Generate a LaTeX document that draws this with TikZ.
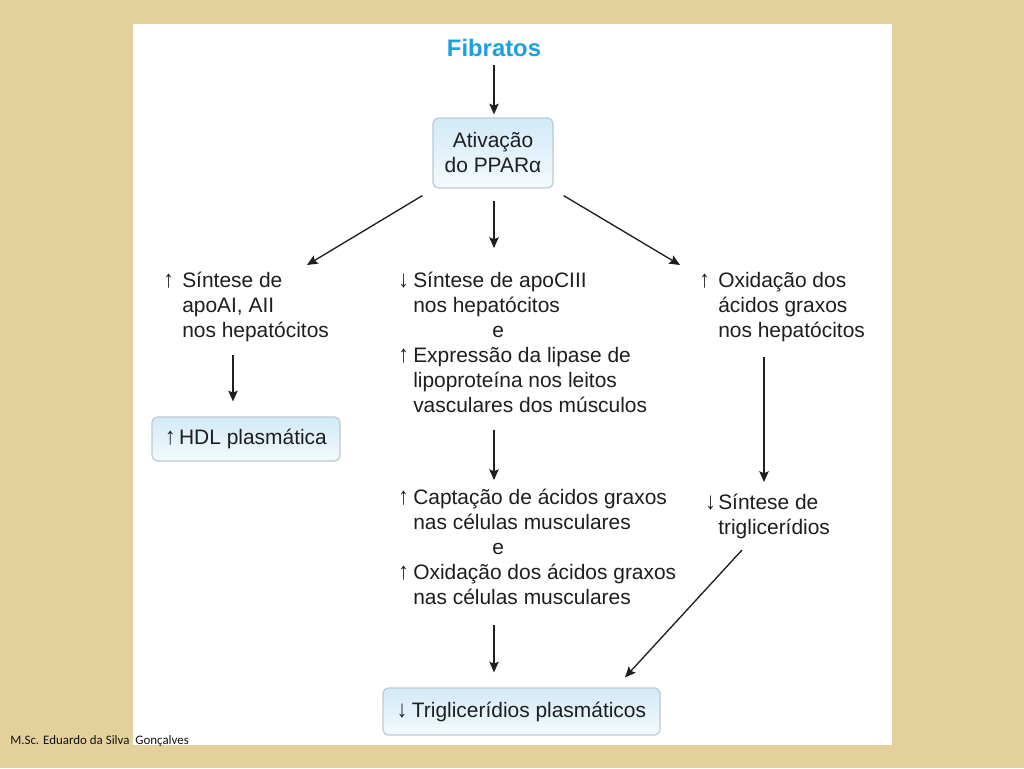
\documentclass[tikz,border=0pt]{standalone}
\usepackage{graphicx}
\usepackage{fontspec}
\setmainfont{Liberation Sans}
\newfontfamily\footfont{Carlito}
\usetikzlibrary{arrows.meta,calc}
\definecolor{bgtan}{RGB}{228,208,154}
\definecolor{fibblue}{RGB}{30,160,222}
\definecolor{boxedge}{RGB}{188,202,210}
\definecolor{boxtop}{RGB}{210,234,248}
\definecolor{boxbot}{RGB}{244,250,253}
\definecolor{txt}{RGB}{30,30,30}
\newcommand{\myup}[1]{\makebox[#1][l]{\scalebox{1}[1.15]{↑}}}
\newcommand{\mydn}[1]{\makebox[#1][l]{\scalebox{1}[1.15]{↓}}}
\newcommand{\firststrut}{\rule{0pt}{16pt}}
\begin{document}
\begin{tikzpicture}[x=0.75pt,y=-0.75pt,
  txtblock/.style={inner sep=0pt, anchor=north west, align=left,
    font=\fontsize{15.7}{18.75}\selectfont, text=txt},
  hlbox/.style={draw=boxedge, line width=0.9pt, rounded corners=4pt,
    top color=boxtop, bottom color=boxbot, inner sep=0pt, align=center,
    font=\fontsize{15.7}{18.75}\selectfont, text=txt},
  arr/.style={-{Stealth[length=8pt,width=7pt,inset=1.4pt]}, line width=1pt, draw=black!88}]
\useasboundingbox (0,0) rectangle (1024,768);
\fill[bgtan] (0,0) rectangle (1024,768);
\fill[white] (133,24) rectangle (892,745);

% title and boxes
\node[font=\fontsize{17.9}{20}\selectfont\bfseries, text=fibblue, inner sep=0pt] (fib) at (494,48) {Fibratos};
\node[hlbox, minimum width=90pt, minimum height=52.5pt] (ativ) at (493,153) {Ativação\\do PPARα};
\node[hlbox, minimum width=141pt, minimum height=33pt] (hdl) at (246,439) {\myup{10.5pt}HDL plasmática};
\node[hlbox, minimum width=207.75pt, minimum height=35.25pt] (trig) at (521.5,711.5) {\mydn{11.25pt}Triglicerídios plasmáticos};

% text blocks
\node[txtblock] (left) at (163,265.7) {\firststrut\myup{14.25pt}Síntese de\\
  \hspace*{14.25pt}apoAI, AII\\
  \hspace*{14.25pt}nos hepatócitos};
\node[txtblock] (mid1) at (398,265.7) {\firststrut\mydn{11.25pt}Síntese de apoCIII\\
  \hspace*{11.25pt}nos hepatócitos\\
  \hspace*{70.5pt}e\\
  \myup{11.25pt}Expressão da lipase de\\
  \hspace*{11.25pt}lipoproteína nos leitos\\
  \hspace*{11.25pt}vasculares dos músculos};
\node[txtblock] (right) at (699,265.7) {\firststrut\myup{14.25pt}Oxidação dos\\
  \hspace*{14.25pt}ácidos graxos\\
  \hspace*{14.25pt}nos hepatócitos};
\node[txtblock] (mid2) at (398,482.7) {\firststrut\myup{11.25pt}Captação de ácidos graxos\\
  \hspace*{11.25pt}nas células musculares\\
  \hspace*{70.5pt}e\\
  \myup{11.25pt}Oxidação dos ácidos graxos\\
  \hspace*{11.25pt}nas células musculares};
\node[txtblock] (sint) at (705,487.7) {\firststrut\mydn{9.75pt}Síntese de\\
  \hspace*{9.75pt}triglicerídios};

% connectors
\draw[arr] ($(fib.south)+(0,8)$) -- ($(ativ.north)+(1,-3)$);
\draw[arr] ($(ativ.south west)+(-10,7)$) -- ($(left.north west)+(144,-0.7)$);
\draw[arr] ($(ativ.south)+(1,12)$) -- ($(mid1.north west)+(96,-17.7)$);
\draw[arr] ($(ativ.south east)+(10,7)$) -- ($(right.north west)+(-19,-0.7)$);
\draw[arr] ($(left.north west)+(70,89.3)$) -- ($(hdl.north)+(-13,-15)$);
\draw[arr] ($(mid1.north west)+(96,164.3)$) -- ($(mid2.north west)+(96,-2.7)$);
\draw[arr] ($(mid2.north west)+(96,142.3)$) -- ($(trig.north)+(-27.5,-15)$);
\draw[arr] ($(right.north west)+(65,91.3)$) -- ($(sint.north west)+(59,-5.7)$);
\draw[arr] ($(sint.north west)+(37,62.3)$) -- ($(trig.north)+(103.5,-10)$);

% footer
\node[anchor=west, inner sep=0pt, font=\footfont\fontsize{9.7}{11}\selectfont, text=black!92] (foot) at (10,741) {M.Sc. Eduardo da Silva\ \ Gonçalves};
\end{tikzpicture}
\end{document}
